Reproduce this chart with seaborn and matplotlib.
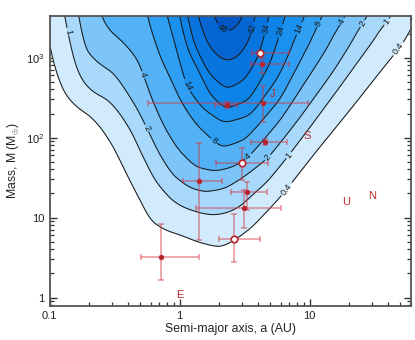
import numpy as np
import pandas as pd
import matplotlib
matplotlib.use("Agg")
import matplotlib.pyplot as plt
import seaborn as sns
from matplotlib.ticker import FixedLocator, FixedFormatter, LogLocator, NullFormatter

# ---------------- data ----------------
levels = [0.4, 1, 2, 4, 8, 14, 24, 34, 42, 48]
band_colors = ["#d2ebfc", "#a8d9fa", "#7dc5f8", "#52b2f5", "#2e9ff2",
               "#1a91ee", "#0d83e8", "#0874dd", "#0566d2", "#0357c4"]

# contour traces: semi-major axis (AU), mass (M_earth)
c04_a = [0.100, 0.110, 0.120, 0.144, 0.181, 0.216, 0.267, 0.331, 0.416, 0.524, 0.625, 0.801,
         1.06, 1.44, 2.05, 2.58, 3.49, 5.24, 5.93, 10.6, 19.4, 34.9, 60.0]
c04_m = [2040, 884, 574, 332, 242, 204, 136, 76.5, 34.2, 16.6, 9.36, 7.43,
         6.44, 5.26, 4.56, 5.58, 8.11, 16.6, 20.9, 70.2, 235, 787, 2350]
c1_a = [0.132, 0.136, 0.152, 0.181, 0.216, 0.282, 0.348, 0.439, 0.497, 0.648, 0.876, 1.06,
        1.44, 1.81, 2.32, 2.92, 3.30, 4.71, 6.84, 10.6, 20.5, 46.2]
c1_m = [4000, 2100, 936, 483, 362, 296, 204, 115, 70.2, 29.6, 16.6, 13.6,
        11.5, 10.8, 11.5, 13.6, 16.6, 27.9, 59.1, 153, 663, 4000]
c2_a = [0.166, 0.181, 0.232, 0.308, 0.367, 0.471, 0.562, 0.671, 0.876, 1.20, 1.57, 2.24,
        3.19, 4.80, 8.45, 15.7, 30.3]
c2_m = [4000, 1250, 859, 644, 430, 222, 132, 70.2, 34.2, 23.5, 20.9, 23.5,
        34.2, 55.7, 176, 702, 4000]
c4_a = [0.236, 0.282, 0.367, 0.471, 0.524, 0.593, 0.747, 0.957, 1.32, 1.87, 2.67, 3.43,
        5.93, 12.0, 20.5]
c4_m = [4000, 2220, 1527, 936, 608, 323, 136, 70.2, 41.8, 37.3, 43.0, 57.4,
        166, 936, 4000]
c8_a = [0.543, 0.671, 0.801, 0.957, 1.20, 1.44, 2.12, 3.19, 5.93, 13.6]
c8_m = [4000, 1250, 702, 395, 204, 136, 74.3, 93.6, 296, 4000]
c14_a = [0.760, 0.957, 1.10, 1.44, 2.20, 3.49, 5.93, 9.91]
c14_m = [4000, 1250, 430, 242, 157, 192, 608, 4000]
c24_a = [0.974, 1.20, 1.44, 1.72, 2.28, 3.49, 4.97, 6.95]
c24_m = [4000, 1250, 765, 342, 222, 296, 811, 4000]
c34_a = [1.08, 1.27, 1.57, 2.32, 3.19, 4.16, 5.15]
c34_m = [4000, 1442, 663, 395, 526, 1081, 4000]
c42_a = [1.29, 1.52, 1.81, 2.32, 2.92, 3.49, 4.02]
c42_m = [4000, 1922, 1178, 884, 1081, 1763, 4000]
c48_a = [1.66, 1.87, 2.12, 2.36, 2.67, 3.03, 3.43]
c48_m = [4000, 2563, 2096, 1978, 2157, 2637, 4000]

# planets with error bars
p_a = [4.18, 4.29, 2.31, 4.41, 4.55, 3.00, 1.40, 3.32, 3.15, 2.62, 0.72]
p_a_lo = [3.63, 3.53, 1.87, 0.57, 3.53, 1.90, 1.07, 2.49, 1.33, 2.01, 0.51]
p_a_hi = [6.95, 6.95, 2.79, 9.73, 6.74, 4.77, 2.13, 4.73, 6.00, 4.16, 1.42]
p_m = [1135, 841, 253, 274, 87, 47.9, 28.8, 21.1, 13.1, 5.42, 3.25]
p_m_lo = [1090, 638, 232, 158, 80, 29.6, 5.26, 12.5, 7.37, 2.77, 1.66]
p_m_hi = [1180, 983, 276, 443, 95, 75.0, 86.6, 28.2, 22.2, 11.0, 8.27]
p_open = [True, False, False, False, False, True, False, False, False, True, False]

# solar-system letters
ss_names = ["E", "J", "S", "U", "N"]
ss_a = [1.0, 5.2, 9.58, 19.2, 30.1]
ss_m = [1.0, 317.8, 95.2, 14.5, 17.1]

# contour label positions (a, M)
lab_a = [2.28, 3.31, 4.38, 5.72, 8.9, 12.4, 18.7, 26.7, 39.3, 49.6,
         1.06, 0.524, 0.562, 0.136, 1.72, 3.44, 4.82, 6.87, 6.48]
lab_m = [2640, 2420, 2350, 2220, 2220, 2560, 2720, 2560, 2820, 1250,
         430, 608, 132, 2100, 81, 56.9, 55.3, 60.8, 23.5]

# ---------------- style ----------------
sns.set_theme(style="ticks")
plt.rcParams["font.family"] = ["Liberation Sans", "DejaVu Sans"]
plt.rcParams["mathtext.fontset"] = "custom"
plt.rcParams["mathtext.rm"] = "Liberation Sans"
plt.rcParams["mathtext.it"] = "Liberation Sans:italic"

fig = plt.figure(figsize=(4.15, 3.4), dpi=100)
ax = fig.add_axes([49.5 / 415, 1 - 305.7 / 340, (410.7 - 49.5) / 415, (305.7 - 16) / 340])
ax.set_xscale("log")
ax.set_yscale("log")
xlim = (0.1, 60.0)
ylim = (0.79, 3320)

# ---------------- field built from the traced contours ----------------
traces = [(c04_a, c04_m), (c1_a, c1_m), (c2_a, c2_m), (c4_a, c4_m), (c8_a, c8_m),
          (c14_a, c14_m), (c24_a, c24_m), (c34_a, c34_m), (c42_a, c42_m), (c48_a, c48_m)]
pad = 0.25
lx = np.linspace(np.log10(xlim[0]) - pad, np.log10(xlim[1]) + pad, 900)
ly = np.linspace(np.log10(ylim[0]) - pad, np.log10(ylim[1]) + pad, 800)
H = []
for k, (ta, tm) in enumerate(traces):
    la = np.log10(ta)
    lm = np.log10(tm)
    h = np.interp(lx, la, lm, left=3.8 + 0.05 * k, right=3.8 + 0.05 * k)
    H.append(h)
H = np.array(H)
H = np.maximum.accumulate(H, axis=0)
H = H + np.arange(len(levels))[:, None] * 1e-5
nl = len(levels)
idx_full = np.arange(nl + 2, dtype=float)
field = np.zeros((ly.size, lx.size))
for j in range(lx.size):
    hj = np.concatenate([[-1.5], H[:, j], [max(4.8, H[-1, j] + 0.1)]])
    field[:, j] = np.interp(ly, hj, idx_full)


def gsmooth(f, sig_x, sig_y):
    def k1(s):
        r = int(3 * s) + 1
        t = np.arange(-r, r + 1)
        w = np.exp(-0.5 * (t / s) ** 2)
        return w / w.sum(), r
    wx, rx = k1(sig_x)
    wy, ry = k1(sig_y)
    g = np.pad(f, ((0, 0), (rx, rx)), mode="edge")
    g = np.apply_along_axis(lambda r: np.convolve(r, wx, mode="valid"), 1, g)
    g = np.pad(g, ((ry, ry), (0, 0)), mode="edge")
    g = np.apply_along_axis(lambda c: np.convolve(c, wy, mode="valid"), 0, g)
    return g


field = gsmooth(field, 9, 9)
X, Y = np.meshgrid(10 ** lx, 10 ** ly)
lev_idx = list(np.arange(1, nl + 1, dtype=float))

ax.contourf(X, Y, field, levels=lev_idx + [100], colors=band_colors)
cs = ax.contour(X, Y, field, levels=lev_idx, colors="#1a1a1a", linewidths=0.75)


def fmt(v):
    val = levels[int(round(v)) - 1]
    return "0.4" if val < 0.5 else "%d" % val


ax.clabel(cs, fmt=fmt, fontsize=6.5, inline=True, inline_spacing=1,
          manual=list(zip(lab_a, lab_m)))

# ---------------- planets ----------------
red = "#b8222a"
pa = np.array(p_a); pm = np.array(p_m)
xerr = [pa - np.array(p_a_lo), np.array(p_a_hi) - pa]
yerr = [pm - np.array(p_m_lo), np.array(p_m_hi) - pm]
ax.errorbar(pa, pm, xerr=xerr, yerr=yerr, fmt="none", ecolor=(0.82, 0.22, 0.25, 0.55),
            elinewidth=1.1, capsize=2.5, capthick=1.1, zorder=5)
df = pd.DataFrame({"a": p_a, "M": p_m, "open": p_open})
sns.scatterplot(data=df[~df["open"]], x="a", y="M", ax=ax, color=red, s=12,
                edgecolor=red, linewidth=0.4, zorder=6, legend=False)
sns.scatterplot(data=df[df["open"]], x="a", y="M", ax=ax, color="white", s=22,
                edgecolor=red, linewidth=1.2, zorder=7, legend=False)

for n, a, m in zip(ss_names, ss_a, ss_m):
    ax.text(a, m, n, color="#c0282d", fontsize=8, ha="center", va="baseline", zorder=8)

# ---------------- axes ----------------
ax.set_xlim(*xlim)
ax.set_ylim(*ylim)
ax.xaxis.set_major_locator(FixedLocator([0.1, 1, 10]))
ax.xaxis.set_major_formatter(FixedFormatter(["0.1", "1", "10"]))
ax.yaxis.set_major_locator(FixedLocator([1, 10, 100, 1000]))
ax.yaxis.set_major_formatter(FixedFormatter(["1", "10", r"10$^2$", r"10$^3$"]))
for axis in (ax.xaxis, ax.yaxis):
    axis.set_minor_locator(LogLocator(base=10, subs=np.arange(2, 10), numticks=20))
    axis.set_minor_formatter(NullFormatter())
ax.tick_params(which="both", direction="in", top=True, right=True, colors="#333333",
               labelcolor="#222222", labelsize=8)
ax.tick_params(which="major", length=5, width=1.0)
ax.tick_params(which="minor", length=3, width=0.9)
for s in ax.spines.values():
    s.set_color("#555555")
    s.set_linewidth(1.3)
ax.set_xlabel("Semi-major axis, a (AU)", fontsize=8.8, color="#222222", labelpad=2)
ax.set_ylabel(r"Mass, M (M$_{\oplus}$)", fontsize=8.8, color="#222222", labelpad=4)
ax.set_facecolor("white")

fig.savefig("out.png", dpi=100)
